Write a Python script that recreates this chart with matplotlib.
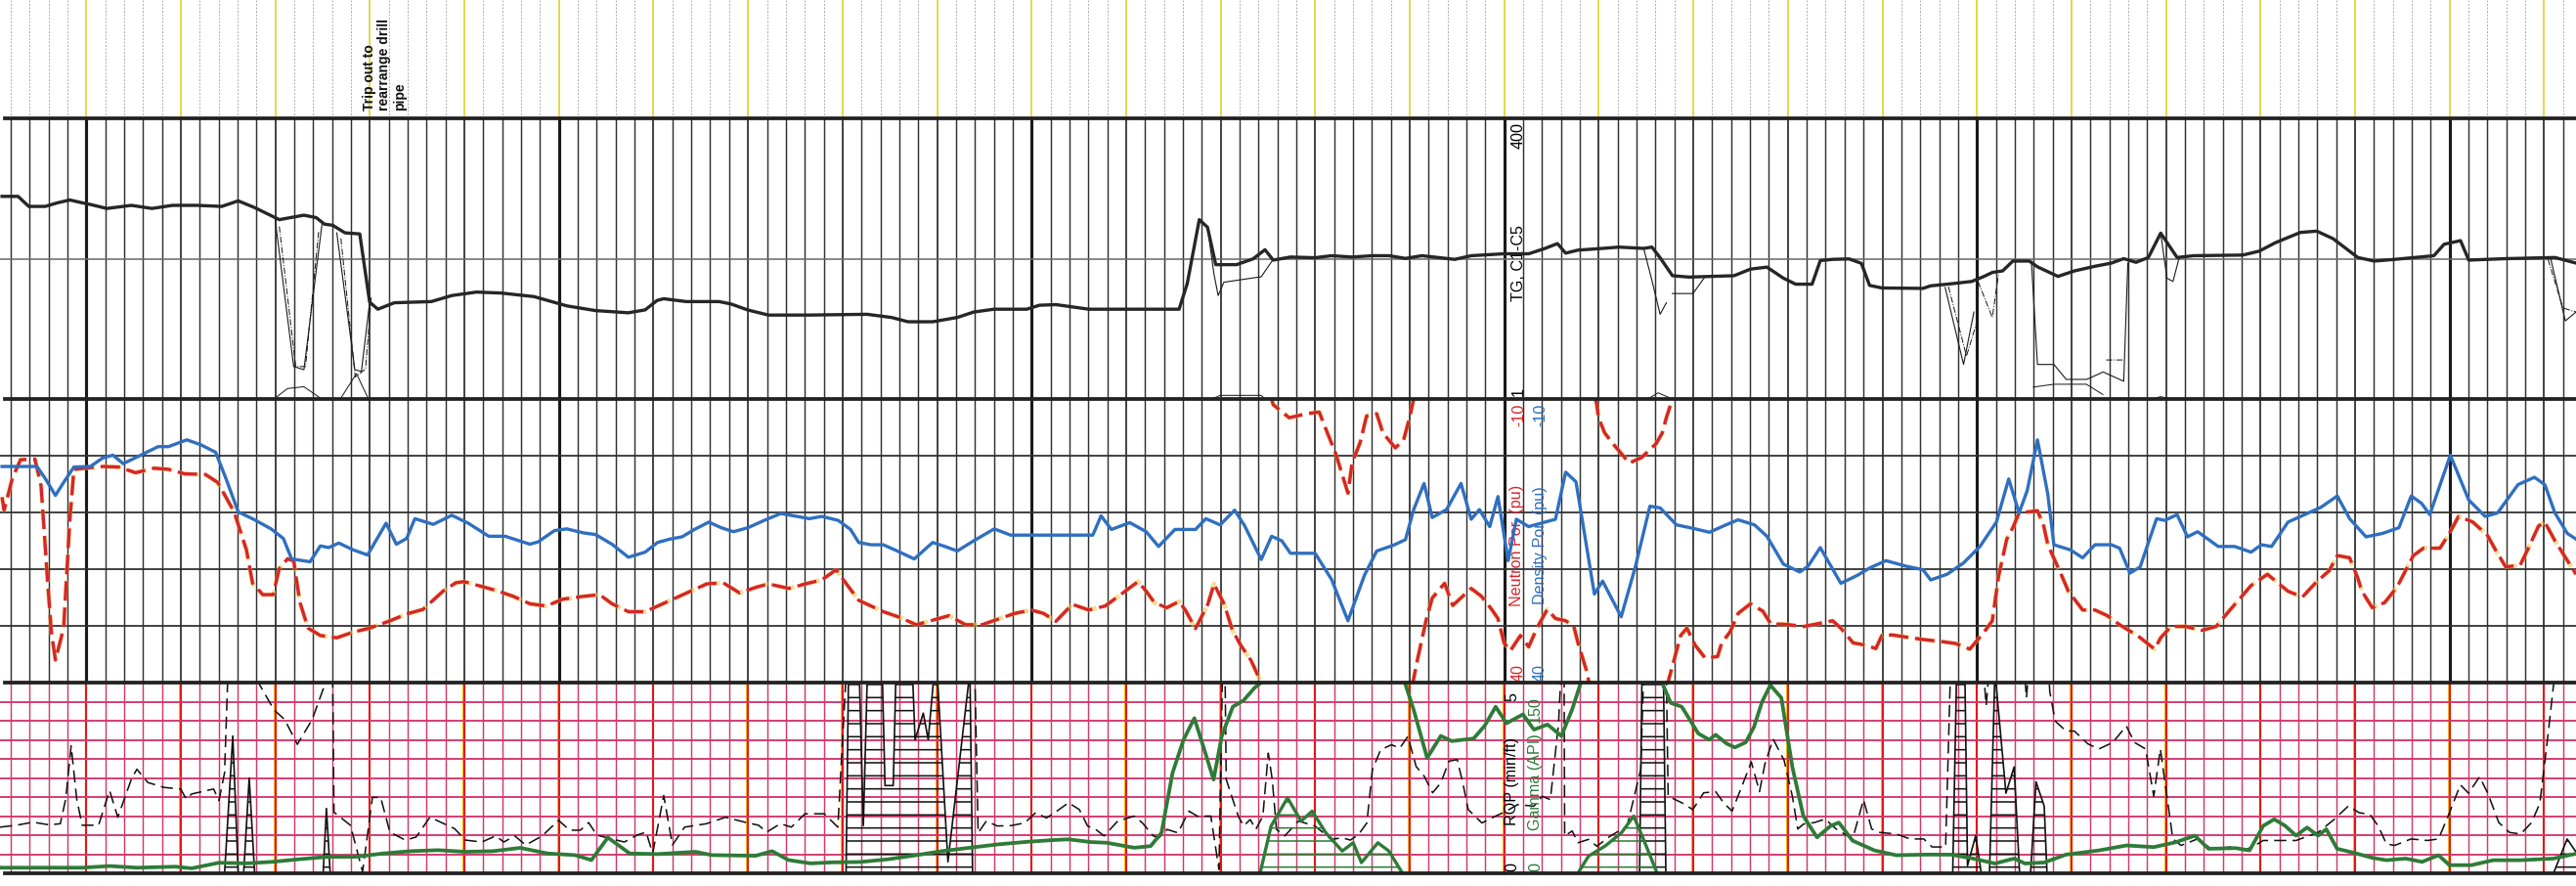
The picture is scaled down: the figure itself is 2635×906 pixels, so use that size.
import numpy as np
import matplotlib
matplotlib.use('Agg')
import matplotlib.pyplot as plt
from matplotlib import font_manager
from matplotlib.lines import Line2D
from matplotlib.transforms import blended_transform_factory as btf

nan = np.nan

# ------------------------------------------------------------------ data
# x = position along the log (depth axis, 0..1568 log units)
# Total gas (log scale 1..400)
tg = [(1.25,75.6),(11,75.6),(17.5,61),(27.5,61),(35,65.9),(42.5,70),(50,65.9),(55,63.6),(65,58.4),(80,62.4),
      (92.5,58.4),(105,62.4),(120,62.4),(135,61),(145,68.7),(155,59.5),(170,46),(185,50.6),(192.5,48),(197.5,41.8),
      (202.5,40.8),(210,34.7),(219,33.9),(225,7.9),(230,6.8),(240,7.8),(262.5,8.0),(275,9.1),(290,9.8),(305,9.6),
      (325,8.9),(345,7.3),(362.5,6.6),(382.5,6.3),(392.7,6.7),(400,8.2),(404,8.5),(417.7,8.0),(437.7,8.0),(445,7.6),
      (455,6.7),(467.7,6.0),(492.7,6.0),(527.7,6.1),(542.7,5.7),(552.7,5.2),(567.7,5.2),(582.7,5.7),(592.7,6.4),
      (605,6.8),(625,6.8),(632.7,7.4),(642.7,7.5),(662.7,6.8),(717.7,6.8),(722.7,11.8),(730,46),(735,39.1),(740,17.6),
      (752.7,17.6),(762.7,19.9),(770,24.2),(775,19.4),(785.5,20.7),(800.5,20.4),(810.5,21.3),(823,20.7),(835.5,21.3),
      (845.5,21.3),(855.5,20.1),(865.5,21.3),(885.5,19.7),(895.5,21.3),(915.5,22.2),(930.5,22.2),(940.5,24.9),
      (948,27.6),(953,22.5),(960.5,24.0),(975.5,24.9),(985.5,25.6),(1000.5,24.9),(1005.5,25.6),(1010.5,20.4),
      (1018,13.9),(1028,13.5),(1055.5,13.9),(1065.5,16.0),(1075.5,16.7),(1085.5,13.2),(1093,11.6),(1103,11.6),
      (1108,19.2),(1115.5,19.7),(1125.5,19.9),(1133,18.1),(1138,11.3),(1145.5,10.7),(1170.5,10.6),(1175.2,11.2),
      (1187.7,11.7),(1200.2,12.3),(1207.7,13.7),(1212.7,14.9),(1219,15.4),(1225.2,19.0),(1235.2,19.0),(1240.2,16.8),
      (1252.7,13.7),(1262.7,15.4),(1275.2,17.0),(1285.2,18.2),(1292.7,20.0),(1300.2,18.5),(1307.7,20.5),(1315.2,34.5),
      (1325.2,20.5),(1335.2,21.3),(1365.2,21.6),(1375.2,23.5),(1385.2,28.2),(1400.2,35.0),(1410.2,36.0),(1420.2,30.6),
      (1435.2,20.5),(1445.2,19.0),(1457.7,19.7),(1481.5,21.3),(1487.7,27.2),(1497.7,29.4),(1502.7,19.4),(1525.2,20.0),
      (1555.2,20.5),(1568,18.2)]

# C1-C5 component traces where they leave the total gas curve
c_solid = [(167.5,46),(178.75,2.0),(185,1.87),(196,41.8),(nan,nan),(205,34.7),(216,1.87),(220,1.8),(225,7.9),(nan,nan),
           (735,39.1),(739,14.2),(741.5,9.1),(745,12.1),(767.7,13.6),(775,19.7),(nan,nan),
           (1000.5,24.9),(1005.5,12.6),(1010.5,6.1),(1014.3,7.8),(nan,nan),(1018,9.5),(1030.5,9.5),(1038,13.7),(nan,nan),
           (1184,10.8),(1195.2,2.09),(1201.5,6.4),(nan,nan),
           (1236.5,19.0),(1240.2,2.09),(1250.2,2.09),(1257.7,1.52),(1270.2,1.52),(1280.2,1.78),(1292.7,1.46),(1295.2,18.2),(nan,nan),
           (1315.2,34.5),(1319,13.2),(1322.7,12.3),(1326.5,20.5),(nan,nan),(1552.7,19.7),(1561.5,5.3),(1568,6.4)]
c_dashdot = [(170,39.8),(180,2.0),(186,2.0),(194,36.5),(nan,nan),(207.5,30.8),(216.25,1.6),(222.5,1.9),(226,8.9),(nan,nan),
             (1186,11.0),(1197,2.5),(1203,5.0),(nan,nan),(1204,12.3),(1212.7,5.7),(1216.5,14.3),(nan,nan),
             (1282,2.3),(1292,2.3),(nan,nan),(1551,19.7),(1560,7.0),(1568,6.4)]
c_low = [(167.5,1.02),(175,1.25),(185,1.3),(195,1.02),(nan,nan),(207.5,1.02),(217,1.72),(224,1.02),(nan,nan),
         (737.7,1.0),(742.7,1.08),(767.7,1.08),(770,1.0),(nan,nan),(1003,1.0),(1009.3,1.14),(1018,1.0),(nan,nan),
         (1237.7,1.29),(1250.2,1.37),(1270,1.37),(1280,1.1),(nan,nan),(1310,1.0),(1315,1.05),(1322,1.0)]

# Density porosity (pu), scale -10 (top) .. 40 (bottom)
density = [(1.25,1.9),(22.5,1.9),(27.5,4.0),(33.75,7.0),(38.75,4.7),(45,2.0),(55,1.9),(62.5,0.4),(68.75,-0.1),(75,1.4),
           (85,0.0),(96.25,-1.6),(102.5,-1.6),(113.75,-2.8),(122.5,-1.9),(131.25,-0.6),(137.5,4.0),(145,9.9),(155,11.3),
           (165,12.9),(172.5,14.6),(177.5,18.2),(188.75,18.7),(195,15.9),(200,16.2),(206.25,15.4),(215,16.6),(223.75,17.5),
           (235,11.9),(241.25,15.6),(247.5,14.6),(252.5,11.1),(263.75,12.1),(275,10.5),(285,11.9),(297.5,14.2),(307.5,14.2),
           (315,14.9),(322.5,15.6),(327.5,15.2),(337.5,13.2),(345,12.9),(355,13.6),(362.5,13.9),(372.5,15.6),(382.5,17.9),
           (392.7,17.0),(400.2,15.3),(407.7,14.7),(415.2,14.3),(422.7,13.0),(431.5,11.7),(439,12.7),(446.5,13.4),(455.2,12.7),
           (465.2,11.4),(475.2,10.2),(485.2,10.7),(492.7,11.1),(500.2,10.7),(510.2,11.4),(517.7,13.0),(522.7,15.3),
           (530.2,15.7),(537.7,15.7),(547.7,17.0),(556.5,18.2),(567.7,15.3),(575.2,16.0),(582.7,16.8),(592.7,15.0),
           (605.2,12.9),(615.2,14.0),(665.2,14.0),(670.2,10.6),(676.5,13.0),(687.7,11.8),(697.7,13.4),(705.2,16.0),
           (715.2,13.0),(727.7,13.0),(734,11.1),(742.7,12.2),(751.5,9.6),(757.7,12.4),(767.7,18.3),(774,14.2),(780.2,15.0),
           (785.5,17.2),(800.5,17.2),(810.5,21.8),(820.5,29.1),(830.5,21.1),(838,16.8),(848,15.8),(855.5,14.8),(860.5,9.5),
           (866.8,4.9),(871.8,10.9),(880.5,9.5),(889.3,4.9),(895.5,11.2),(900.5,9.5),(906.8,12.5),(911.8,7.2),(918,18.5),
           (923,11.2),(930.5,12.5),(946.8,11.2),(953,2.9),(959.3,4.6),(970.5,24.4),(975.5,22.1),(986.8,28.4),(995.5,19.5),
           (1004.3,8.9),(1010.5,9.2),(1020.5,12.2),(1030.5,12.8),(1040.5,13.5),(1050.5,12.2),(1058,11.3),(1068,12.2),
           (1075.5,14.2),(1085.5,19.1),(1095.5,20.5),(1100.5,19.5),(1108,16.2),(1120.5,22.5),(1130.5,21.1),(1138,19.8),
           (1148,18.5),(1160.5,19.5),(1170.5,20.1),(1175.2,21.9),(1185.2,20.9),(1195.2,18.9),(1205.2,16.0),(1215.2,11.7),
           (1222.7,4.1),(1229,10.1),(1234,6.1),(1240.2,-2.8),(1246.5,6.8),(1250.2,15.7),(1260.2,16.6),(1267.7,18.0),
           (1275.2,15.7),(1285.2,15.7),(1290.2,16.3),(1296.5,20.7),(1302.7,19.6),(1312.7,11.1),(1317.7,11.4),(1325.2,10.4),
           (1331.5,14.3),(1337.7,13.4),(1350.2,16.0),(1360.2,16.0),(1370.2,17.0),(1376.5,15.7),(1382.7,16.0),(1392.7,11.7),
           (1402.7,10.4),(1412.7,9.1),(1422.7,7.1),(1430.2,11.1),(1440.2,14.3),(1450.2,13.7),(1460.2,12.7),(1467.7,7.1),
           (1474,8.4),(1479,10.4),(1491.5,-0.1),(1502.7,7.8),(1512.7,10.7),(1520.2,10.1),(1532.7,5.1),(1542.7,3.8),
           (1549,5.1),(1555.2,10.1),(1562.7,13.7),(1568,14.7)]

# Neutron porosity (pu), same scale; wrapped parts separated by NaN
neutron = [(1.25,7.3),(2.5,9.6),(7.5,4.0),(12.5,0.7),(21.25,0.6),(25,5.3),(28.75,21.2),(31.25,31.1),(33.75,36.0),
           (38.75,30.4),(42.5,11.3),(45,2.4),(62.5,1.9),(72.5,2.0),(82.5,3.0),(93.75,2.2),(102.5,2.4),(112.5,3.2),(125,3.3),
           (132.5,4.7),(142.5,9.9),(150,16.6),(153.75,22.5),(160,24.5),(166.25,24.5),(170,19.9),(175,18.2),(178.75,18.5),
           (182.5,25.8),(187.5,30.4),(195,31.7),(205,32.1),(215,31.1),(225,30.4),(237.5,29.1),(247.5,27.9),(257.5,27.1),
           (270,23.8),(277.5,22.4),(282.5,22.2),(290,22.8),(302.5,23.8),(312.5,24.8),(322.5,26.1),(332.5,26.5),(342.5,25.3),
           (355,24.8),(365,24.5),(372.5,26.1),(382.5,27.5),(392.7,27.5),(402.7,26.2),(420.2,23.9),(430.2,22.6),(440.2,22.4),
           (450.2,24.2),(460.2,23.2),(467.7,22.6),(480.2,23.4),(490.2,22.6),(500.2,21.9),(509,20.1),(515.2,22.6),(522.7,25.5),
           (530.2,26.5),(537.7,27.5),(547.7,28.5),(557.7,29.8),(567.7,29.0),(577.7,28.2),(587.7,29.8),(597.7,29.8),
           (607.7,28.8),(617.7,27.8),(627.7,27.2),(635.2,27.8),(642.7,29.2),(652.7,26.2),(662.7,27.2),(672.7,26.5),
           (680.2,24.9),(692.7,22.2),(697.7,23.9),(702.7,25.9),(710.2,26.8),(717.7,25.7),(721.5,27.2),(727.7,30.5),
           (735.2,26.2),(739,22.6),(745.2,26.2),(750.2,30.8),(755.2,33.4),(761.5,36.1),(767.7,40.0),(770,42),(nan,nan),
           (773,-11),(775,-9.0),(784.7,-6.7),(795.5,-7.4),(803,-7.7),(808,-4.0),(813,-0.4),(820.5,6.6),(823,1.3),(828,-2.4),
           (831.8,-7.0),(838,-7.4),(841.8,-4.0),(849.3,-1.4),(854.3,-2.7),(858,-6.7),(860.5,-10),(861.8,-11.3),(nan,nan),
           (859.3,41),(863,35.7),(868,29.1),(871.8,25.1),(879.3,22.5),(884.3,26.4),(895.5,23.4),(901.8,24.8),(908,27.1),
           (911.8,28.7),(915.5,33.0),(919.3,34.4),(925.5,31.7),(930.5,33.7),(935.5,30.4),(941.8,27.1),(946.8,28.7),
           (953,29.1),(958,30.1),(960.5,33.0),(965.5,37.7),(968,41),(nan,nan),
           (970.5,-10.5),(971.8,-9.3),(973,-6.7),(976.8,-4.0),(983,-1.7),(991.8,1.3),(999.3,0.3),(1008,-2.1),(1011.8,-4.0),
           (1014.3,-6.7),(1018,-10),(1019.3,-11),(nan,nan),
           (1014.3,41),(1019.3,35.7),(1023,31.7),(1026.8,30.4),(1031.8,33.4),(1038,35.7),(1045.5,35.4),(1048,33.0),
           (1053,31.1),(1058,27.8),(1065.5,26.1),(1073,27.4),(1078,29.7),(1085.5,29.7),(1098,30.1),(1110.5,29.4),
           (1115.5,29.1),(1120.5,30.4),(1128,33.0),(1135.5,33.4),(1141.8,34.0),(1145.5,31.7),(1151.8,31.6),(1163,32.1),
           (1170.5,32.4),(1182.7,32.8),(1190.2,33.1),(1199,34.1),(1207.7,31.1),(1212.7,29.1),(1216.5,21.3),(1221.5,14.7),
           (1225.2,12.7),(1229,10.1),(1240.2,9.7),(1244,12.4),(1246.5,15.7),(1255.2,21.3),(1259,23.9),(1267.7,27.2),
           (1275.2,27.2),(1282.7,28.2),(1290.2,29.8),(1301.5,31.8),(1311.5,34.1),(1315.2,32.1),(1321.5,30.1),(1330.2,30.1),
           (1340.2,30.8),(1349,30.1),(1356.5,27.5),(1370.2,22.9),(1380.2,20.9),(1392.7,23.9),(1401.5,24.9),(1410.2,22.2),
           (1417.7,20.3),(1422.7,17.6),(1430.2,18.0),(1435.2,21.6),(1437.7,23.9),(1444,26.8),(1451.5,25.9),(1459,23.2),
           (1469,17.6),(1475.2,16.3),(1485.2,16.3),(1491.5,13.4),(1496.5,10.7),(1505.2,11.7),(1514,14.0),(1519,16.6),
           (1525.2,19.6),(1534,19.3),(1539,16.3),(1545.2,12.4),(1549,11.7),(1555.2,15.0),(1568,20.9)]

# Gamma ray (API), scale 0..150
gamma = [(0,4.4),(50,4.4),(66.7,5.7),(83.3,4.4),(106.7,5.2),(116.7,3.9),(133.3,8.3),(150,7.8),(166.7,9.1),(183.3,11.2),
         (200,13.0),(216.7,13.0),(233.3,15.6),(250,17.4),(266.7,18.2),(283.3,16.9),(300,17.4),(316.7,20.0),(333.3,15.6),
         (350,14.3),(360,10.4),(370,28.1),(383.3,15.6),(400,15.1),(423.3,16.9),(433.3,14.3),(460,13.8),(470,17.4),
         (480,10.4),(493.3,7.8),(506.7,8.6),(523.7,8.9),(540.4,11.0),(557,14.1),(573.7,17.5),(590.4,20.1),(607,22.7),
         (623.7,24.6),(640.4,26.1),(650.4,26.7),(663.7,24.6),(673.7,24.0),(690.4,20.1),(700.4,21.4),(707,31.9),
         (713.7,78.9),(720.4,105),(727,122),(733.7,94.6),(738.7,73.7),(743.7,108),(750.4,131),(757,136),(763.7,146),
         (768.7,151),(772,170),(852,170),(855.4,149),(860.4,129),(868.7,90.7),(877,108),(883.7,104),(890.4,105),(897,106),
         (903.7,116),(910.4,131),(917,118),(927,125),(933.7,113),(942,117),(950.4,108),(957,129),(962,149),(965,170),
         (1009,170),(1012,149),(1017,134),(1023.7,131),(1033.7,110),(1040.4,105),(1044.3,109),(1051,102),(1056,99),
         (1062.6,103),(1067.6,115),(1072.6,135),(1077.6,148),(1084.3,138),(1091,83.6),(1097.7,45),(1106,28.3),
         (1114.3,37.3),(1119.3,39.9),(1127.6,25.7),(1141,18),(1154.3,14.2),(1171,14.7),(1187.6,14.7),(1201,11.6),
         (1214.3,7.7),(1226,11.6),(1232.6,7.7),(1244.3,8.5),(1257.6,14.7),(1277.6,18),(1294.3,21.9),(1311,20.6),
         (1324.3,24.4),(1336,29.6),(1344.3,19.3),(1361,19.8),(1369.3,18),(1377.6,37.3),(1384.3,42.5),(1391,37.3),
         (1397.6,29.6),(1404.3,36),(1411,29.6),(1416,34.7),(1422.6,19.3),(1431,16.7),(1444.3,12.1),(1452.6,10.3),
         (1464.3,11.6),(1474.3,9.0),(1484.3,14.2),(1491,6.4),(1504.3,6.4),(1517.6,10.3),(1534.3,10.3),(1554.3,11.6),
         (1568,15.4)]

# Gamma above 150 API, wrapped to the backup scale (hatched)
gamma_wrap = [(767,0),(773.7,37.1),(783.7,59.3),(792,41),(798.7,48.9),(807,31.9),(817,17.5),(823.7,24),(828.7,8.4),
              (838.7,24),(845.4,17.5),(853.7,0),(nan,nan),
              (960.4,0),(967,13.6),(977,21.4),(987,31.9),(994.4,45),(1000.4,26.7),(1008.7,0)]

# ROP (min/ft), scale 0..5 (values of 6 = off scale)
rop = [(0,1.21),(10,1.26),(20,1.34),(30,1.27),(36.7,1.30),(40,1.95),(43.3,3.34),(46.7,1.95),(50,1.26),(60,1.26),
       (66.7,2.17),(71.7,1.47),(80,2.47),(83.3,2.73),(90,2.38),(100,2.25),(110,2.21),(113.3,1.95),(116.7,2.08),
       (130,2.21),(133.3,1.91),(136.7,2.64),(139.3,6),(156,6),(157.3,5.0),(166.7,4.29),(173.3,4.03),(181,3.38),
       (190,4.03),(197.3,4.9),(200,6),(202.3,6),(203.3,1.60),(213.3,1.26),(220.7,0.04),(226.7,1.99),(231.7,1.99),
       (237.3,1.08),(246.7,0.87),(253.3,0.95),(261.7,1.47),(276.7,1.17),(283.3,0.87),(293.3,0.82),(301.7,0.98),
       (306.7,0.82),(313.3,0.98),(320,0.74),(330,0.98),(340,1.39),(346.7,1.13),(353.3,1.13),(358.3,1.33),(363.3,1.00),
       (371.7,0.91),(380,0.82),(388.3,1.01),(393.3,1.08),(397.3,0.52),(404,2.04),(409.3,0.74),(416.7,1.21),(430,1.30),
       (441.7,1.47),(453.3,1.34),(461.7,1.26),(466.7,1.08),(475,1.30),(481.7,1.21),(490,1.56),(501.7,1.56),(510,1.21),
       (516,6),(593,6),(595.4,1.06),(600.4,1.37),(607,1.24),(615.4,1.25),(623.7,1.32),(630.4,1.59),(637,1.45),
       (642,1.59),(650.4,1.85),(657,1.67),(662,1.24),(667,1.15),(672,0.98),(680.4,1.37),(690.4,1.50),(695.4,1.32),
       (702,0.98),(705.4,0.93),(710.4,1.15),(717,1.06),(723.7,1.63),(728.7,1.50),(737,1.50),(742,0.10),(744.4,6),
       (745.5,6),(746.4,2.46),(753.7,1.50),(757,1.24),(761,1.41),(764.4,1.15),(768.7,1.50),(772,3.15),(774.4,2.46),
       (777,1.15),(782,0.98),(790.4,1.37),(800.4,1.24),(810.4,0.89),(817,0.93),(822,0.87),(827,1.02),(832,1.32),
       (835.4,2.72),(840.4,3.24),(847,3.37),(852,3.28),(857,3.59),(862,2.80),(867,2.54),(872,2.11),(877,2.37),(882,2.94),
       (887,2.98),(890.4,2.37),(893.7,1.67),(902,1.32),(910.4,1.50),(917,1.63),(923.7,1.80),(933.7,1.76),(938.7,2.02),
       (943.7,1.93),(948.7,3.94),(951,6),(952,6),(952.4,0.98),(957,1.11),(960.4,0.80),(967,0.89),(972,0.71),(980.4,0.98),
       (990.4,1.24),(998.7,2.72),(1001,6),(1014,6),(1015.4,2.02),(1023.7,1.85),(1030.4,1.67),(1037,2.11),(1044.3,2.14),
       (1049.3,1.84),(1054.3,1.63),(1061,2.36),(1066,2.92),(1071,2.14),(1074.3,2.87),(1079.3,3.52),(1086,2.96),
       (1091,2.02),(1094.3,1.16),(1097.7,1.29),(1104.3,1.33),(1111,1.42),(1117.7,1.16),(1127.7,0.90),(1134.3,1.93),
       (1139.3,1.16),(1144.3,1.07),(1154.3,1.03),(1162.7,0.90),(1171,0.90),(1176,0.69),(1184.3,0.69),(1187.7,6),
       (1206,6),(1209,4.4),(1212,6),(1231,6),(1233.5,4.6),(1236,6),(1246,6),(1247.7,4.76),(1251,3.99),(1257.6,3.73),
       (1262.6,3.73),(1271,3.39),(1277.6,3.26),(1286,3.43),(1294.3,3.86),(1299.3,3.43),(1306,3.26),(1311,2.02),
       (1315,3.26),(1322.6,0.90),(1327.6,0.73),(1337.6,0.90),(1346,0.64),(1357.6,0.69),(1366,0.60),(1372.6,0.73),
       (1377.6,0.86),(1387.6,0.86),(1397.6,0.86),(1411,1.07),(1421,1.42),(1429.3,1.76),(1436,1.59),(1442.6,1.54),
       (1447.6,1.24),(1452.6,0.77),(1457.6,0.73),(1467.6,0.90),(1477.6,0.86),(1484.3,0.90),(1491,1.59),(1497.6,2.32),
       (1502.6,2.10),(1509.3,2.53),(1514.3,2.10),(1521,1.33),(1527.6,1.07),(1534.3,1.03),(1541,1.33),(1546,1.84),
       (1551,3.64),(1554.3,4.93),(1556,6),(1568,6)]

# ROP above 5 min/ft, wrapped (hatched)
rop_wrap = [(136.7,0),(141.7,3.6),(145,0),(nan,nan),(148.3,0),(151.7,2.5),(155,0),(nan,nan),
            (196.7,0),(198.7,1.7),(201,0),(nan,nan),
            (515,0),(516.5,5.3),(523,5.3),(525.5,1.25),(528,5.3),(537,5.3),(538.7,2.3),(543.7,2.3),(545.4,5.3),
            (555.4,5.3),(557,3.5),(562,4.2),(565,3.5),(568.7,5.3),(570.4,5.3),(577,0.3),(590.4,5.3),(592,0),(nan,nan),
            (998,0),(999.5,5.3),(1012.5,5.3),(1014,0),(nan,nan),
            (1188.6,0),(1191,5.3),(1196,5.3),(1197.6,0.2),(1202.6,0.99),(1206,0),(nan,nan),
            (1211,0),(1214.3,5.3),(1221,2.10),(1226,2.79),(1229.3,0),(nan,nan),
            (1236,0),(1239.3,2.40),(1244.3,1.76),(1246,0),(nan,nan),
            (1554.3,0),(1562.6,0.9),(1568,0.56)]

annotation = "Trip out to\nrearrange drill\npipe"
annotation_x = 234

# ------------------------------------------------------------------ figure
W, H, DPI = 2635, 906, 80
XMAX = 1568.0
plt.rcParams['hatch.linewidth'] = 1.4

names = {f.name for f in font_manager.fontManager.ttflist}
if 'Liberation Sans Narrow' in names:
    FONT, LSIZE, TSIZE = 'Liberation Sans Narrow', 17, 15
else:
    FONT, LSIZE, TSIZE = 'Liberation Sans', 14.5, 12.5

fig = plt.figure(figsize=(W / DPI, H / DPI), dpi=DPI)
fig.patch.set_facecolor('white')

def xy(pts):
    a = np.array(pts, dtype=float)
    return a[:, 0], a[:, 1]

def make_ax(top_px, bot_px):
    ax = fig.add_axes([0, 1 - bot_px / H, 1, (bot_px - top_px) / H])
    ax.set_xlim(0, XMAX)
    ax.axis('off')
    ax.patch.set_alpha(0)
    return ax

Y_TOP, Y1, Y2, Y3 = 121, 408, 698, 893

mid0, mid_step = 52.55, 57.54
minor_step = mid_step / 5
mids = np.arange(mid0, XMAX, mid_step)
minors = np.arange(mid0 - 4 * minor_step, XMAX, minor_step)
minors_only = np.array([m for m in minors if np.min(np.abs(mids - m)) > 1])
thick = mids[::5]
mids_only = np.array([m for m in mids if np.min(np.abs(thick - m)) > 1])

GRID = '#303030'

# top strip
ax0 = make_ax(0, Y_TOP)
ax0.set_ylim(0, 1)
ax0.vlines(minors_only, 0, 1, colors='#b0b0b0', lw=0.9, linestyles=(0, (2, 1.5)))
ax0.vlines(mids, 0, 1, colors='#d6d21e', lw=1.4)
ax0.text(annotation_x, 0.07, annotation, rotation=90, ha='center', va='bottom',
         multialignment='left', fontsize=TSIZE, fontweight='bold', family=FONT,
         linespacing=1.15, transform=btf(ax0.transData, ax0.transAxes), color='#111')

# track 1: gas
ax1 = make_ax(Y_TOP, Y1)
ax1.set_yscale('log')
ax1.set_ylim(1, 400)
tr1 = ax1.get_xaxis_transform()
ax1.vlines(minors_only, 0, 1, colors=GRID, lw=1.3, transform=tr1)
ax1.vlines(mids_only, 0, 1, colors=GRID, lw=1.6, transform=tr1)
ax1.vlines(thick, 0, 1, colors='#1a1a1a', lw=2.8, transform=tr1)
ax1.axhline(20, color='#6a6a6a', lw=1.4)
x, v = xy(c_low); ax1.plot(x, v, color='#1a1a1a', lw=0.9, zorder=4)
x, v = xy(c_dashdot); ax1.plot(x, v, color='#1a1a1a', lw=0.9, ls='-.', zorder=4)
x, v = xy(c_solid); ax1.plot(x, v, color='#1a1a1a', lw=1.0, zorder=4)
x, v = xy(tg); ax1.plot(x, v, color='#262626', lw=3.0, zorder=5, solid_joinstyle='round')
t1 = btf(ax1.transData, ax1.transAxes)
ax1.text(924.5, 0.985, '400', rotation=90, ha='center', va='top', fontsize=LSIZE, family=FONT, transform=t1)
ax1.text(924.5, 0.485, 'TG, C1-C5', rotation=90, ha='center', va='center', fontsize=LSIZE, family=FONT, transform=t1)
ax1.text(924.5, 0.01, '1', rotation=90, ha='center', va='bottom', fontsize=LSIZE, family=FONT, transform=t1)

# track 2: porosity
RED, BLUE, GREEN = '#d6252b', '#2f6fc0', '#2e7b38'
ax2 = make_ax(Y1, Y2)
ax2.set_ylim(40, -10)
tr2 = ax2.get_xaxis_transform()
ax2.vlines(minors_only, 0, 1, colors=GRID, lw=1.3, transform=tr2)
ax2.vlines(mids_only, 0, 1, colors=GRID, lw=1.6, transform=tr2)
ax2.vlines(thick, 0, 1, colors='#1a1a1a', lw=2.8, transform=tr2)
for yv in (0, 10, 20, 30):
    ax2.axhline(yv, color=GRID, lw=1.6)
x, v = xy(neutron)
ax2.plot(x, v, color='#f0c23a', lw=4.2, dashes=(4.3, 1.5), alpha=0.55, zorder=4)
ax2.plot(x, v, color=RED, lw=3.0, dashes=(6, 2.1), zorder=5)
x, v = xy(density); ax2.plot(x, v, color=BLUE, lw=3.0, zorder=6, solid_joinstyle='round')
t2 = btf(ax2.transData, ax2.transAxes)
ax2.text(924.5, 0.985, '-10', rotation=90, ha='center', va='top', fontsize=LSIZE, family=FONT, color=RED, transform=t2)
ax2.text(937.5, 0.985, '-10', rotation=90, ha='center', va='top', fontsize=LSIZE, family=FONT, color=BLUE, transform=t2)
ax2.text(923.5, 0.483, 'Neutron Por. (pu)', rotation=90, ha='center', va='center', fontsize=LSIZE, family=FONT, color=RED, transform=t2)
ax2.text(937.5, 0.483, 'Density Por. (pu)', rotation=90, ha='center', va='center', fontsize=LSIZE, family=FONT, color=BLUE, transform=t2)
ax2.text(924.5, 0.005, '40', rotation=90, ha='center', va='bottom', fontsize=LSIZE, family=FONT, color=RED, transform=t2)
ax2.text(937.5, 0.005, '40', rotation=90, ha='center', va='bottom', fontsize=LSIZE, family=FONT, color=BLUE, transform=t2)

# track 3: ROP / gamma
PINK, RED_GRID = '#d2386e', '#e3161c'
ax3 = make_ax(Y2, Y3)
ax3.set_ylim(0, 5)
tr3 = ax3.get_xaxis_transform()
ax3.vlines(minors_only, 0, 1, colors=PINK, lw=1.3, transform=tr3)
ax3.vlines(mids - 1.0, 0, 1, colors='#f2c400', lw=1.0, transform=tr3)
ax3.vlines(mids, 0, 1, colors=RED_GRID, lw=1.9, transform=tr3)
for yv in np.arange(0.5, 5.0, 0.5):
    ax3.axhline(yv, color=PINK, lw=1.7)
ax3g = make_ax(Y2, Y3)
ax3g.set_ylim(0, 150)

x, v = xy(gamma_wrap)
ax3g.fill_between(x, 0, v, facecolor='none', edgecolor=GREEN, hatch='-', linewidth=0, zorder=3)
ax3g.plot(x, v, color=GREEN, lw=3.0, zorder=4)
x, v = xy(rop_wrap)
ax3.fill_between(x, 0, v, facecolor='none', edgecolor='#111111', hatch='-', linewidth=0, zorder=3)
ax3.plot(x, v, color='#111111', lw=1.5, zorder=4)
x, v = xy(rop); ax3.plot(x, v, color='#111111', lw=1.4, dashes=(8, 4), zorder=5)
x, v = xy(gamma); ax3g.plot(x, v, color=GREEN, lw=3.4, zorder=6, solid_joinstyle='round')

t3 = btf(ax3.transData, ax3.transAxes)
ax3g.text(920.5, 0.95, '5', rotation=90, ha='center', va='top', fontsize=LSIZE, family=FONT, transform=t3)
ax3g.text(934.5, 0.93, '150', rotation=90, ha='center', va='top', fontsize=LSIZE, family=FONT, color=GREEN, transform=t3)
ax3g.text(920.5, 0.48, 'ROP (min/ft)', rotation=90, ha='center', va='center', fontsize=LSIZE, family=FONT, transform=t3)
ax3g.text(934.5, 0.48, 'Gamma (API)', rotation=90, ha='center', va='center', fontsize=LSIZE, family=FONT, color=GREEN, transform=t3)
ax3g.text(920.5, 0.01, '0', rotation=90, ha='center', va='bottom', fontsize=LSIZE, family=FONT, transform=t3)
ax3g.text(934.5, 0.01, '0', rotation=90, ha='center', va='bottom', fontsize=LSIZE, family=FONT, color=GREEN, transform=t3)

# track borders
for ypx in (Y_TOP, Y1, Y2, Y3):
    fig.add_artist(Line2D([0.002, 1], [1 - ypx / H] * 2, transform=fig.transFigure,
                          color='#222222', lw=3.4, zorder=10))

fig.savefig('out.png', dpi=DPI, facecolor='white')
